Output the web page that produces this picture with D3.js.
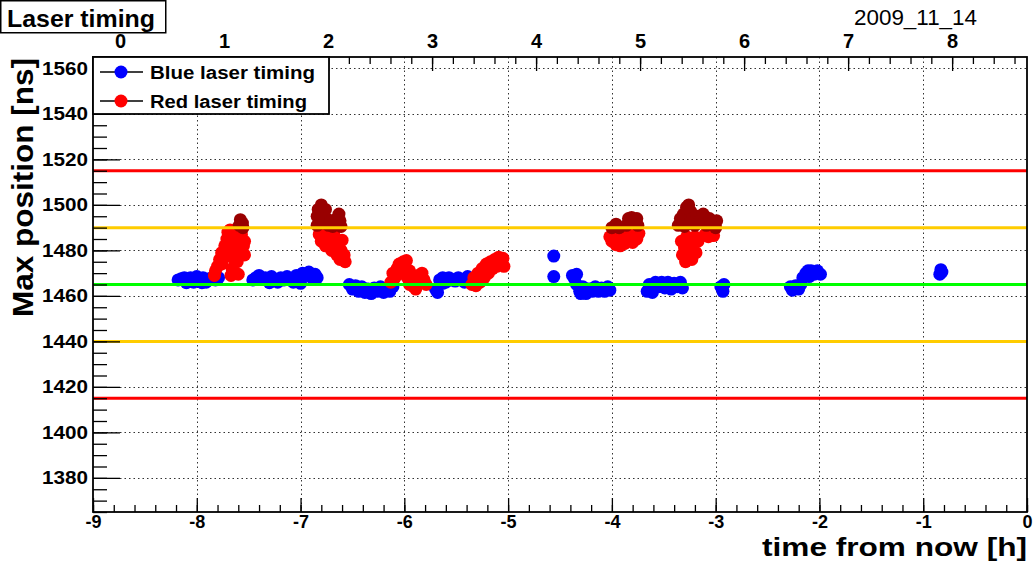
<!DOCTYPE html>
<html>
<head>
<meta charset="utf-8">
<script src="https://cdn.jsdelivr.net/npm/d3@7"></script>
<style>
  html, body { margin: 0; padding: 0; background: #fff; }
  svg { display: block; font-family: "Liberation Sans", Arial, Helvetica, sans-serif; }
</style>
</head>
<body>
<svg id="chart" width="1035" height="563"></svg>
<script>
// ---------------- data ----------------
const chartTitle = "Laser timing";
const dateLabel = "2009_11_14";
const xTitle = "time from now [h]";
const yTitle = "Max position [ns]";
const seriesNames = ["Blue laser timing", "Red laser timing"];

const xDomain = [-9, 0];
const yDomain = [1365, 1565];
const topDomain = [-0.26, 8.72];
const xMajorTicks = [-9, -8, -7, -6, -5, -4, -3, -2, -1, 0];
const xTickLabels = ["-9", "-8", "-7", "-6", "-5", "-4", "-3", "-2", "-1", "0"];
const yMajorTicks = [1380, 1400, 1420, 1440, 1460, 1480, 1500, 1520, 1540, 1560];
const topMajorTicks = [0, 1, 2, 3, 4, 5, 6, 7, 8];

// reference lines: [value, colour]
const refLines = [[1515, "#ff0000"], [1490, "#ffcc00"], [1465, "#00ff00"], [1440, "#ffcc00"], [1415, "#ff0000"]];

// blue laser timing [time (h), position (ns)]
const blueData = [
  [-8.18,1467],[-8.15,1467.5],[-8.12,1468],[-8.09,1467],[-8.06,1468],[-8.03,1466],[-8.0,1468.5],[-7.97,1467],
  [-7.94,1468],[-7.91,1466],[-7.88,1467.5],[-7.85,1468],[-7.82,1467],[-7.79,1468],[-8.1,1465.8],[-7.95,1465.8],
  [-7.46,1467],[-7.43,1468],[-7.40,1469],[-7.37,1467.5],[-7.34,1468],[-7.31,1467],[-7.28,1468.5],[-7.25,1467],
  [-7.22,1466],[-7.19,1468],[-7.16,1467],[-7.13,1468.5],[-7.10,1467.5],[-7.07,1466],[-7.04,1469],[-7.01,1468],
  [-6.98,1470],[-6.95,1469],[-6.92,1470.5],[-6.89,1468],[-6.86,1469.5],[-6.84,1468],[-7.0,1465.5],[-7.3,1465.8],
  [-6.53,1465],[-6.50,1463],[-6.47,1464.5],[-6.44,1462],[-6.41,1464],[-6.38,1461.5],[-6.35,1463],[-6.32,1461],
  [-6.29,1463.5],[-6.26,1462],[-6.23,1464],[-6.20,1461.5],[-6.17,1463],[-6.14,1462],[-6.11,1464],
  [-5.70,1463],[-5.68,1461.5],[-5.66,1467],[-5.63,1468],[-5.60,1466],[-5.57,1468],[-5.54,1467],[-5.51,1466.5],
  [-5.48,1468],[-5.45,1467],[-5.42,1466],[-5.39,1468.5],[-5.63,1465.5],
  [-4.56,1477.5],[-4.56,1468.5],
  [-4.38,1469],[-4.36,1467.5],[-4.34,1469.5],[-4.34,1465],[-4.31,1462],[-4.28,1464],[-4.25,1461],[-4.22,1463],
  [-4.19,1462],[-4.16,1464],[-4.13,1462],[-4.10,1463.5],[-4.07,1462],[-4.04,1464],[-4.02,1462.5],[-4.30,1461],
  [-3.66,1462],[-3.64,1465],[-3.61,1461.5],[-3.58,1466],[-3.55,1464],[-3.52,1466],[-3.49,1463.5],[-3.46,1466],
  [-3.43,1463],[-3.40,1465.5],[-3.37,1464],[-3.34,1466],[-3.32,1463.5],
  [-2.95,1464],[-2.93,1462],[-2.92,1465],
  [-2.28,1464],[-2.26,1462.5],[-2.23,1464.5],[-2.20,1463],[-2.18,1465],[-2.16,1468],[-2.13,1470],[-2.10,1468.5],
  [-2.08,1471],[-2.05,1469.5],[-2.02,1471],[-1.99,1469.5],[-2.11,1471],
  [-0.83,1471.5],[-0.84,1469.5],[-0.82,1470.5]
];

// red laser timing
const redData = [
  [-7.83,1469],[-7.82,1471],[-7.80,1473],[-7.78,1476],[-7.76,1479],[-7.76,1474],[-7.73,1482],[-7.73,1477],
  [-7.71,1485],[-7.70,1488],[-7.70,1480],[-7.68,1489],[-7.67,1483],[-7.66,1477],[-7.66,1472],[-7.67,1469],
  [-7.63,1486],[-7.62,1480],[-7.61,1475],[-7.60,1469.5],[-7.59,1484],[-7.57,1479],[-7.57,1487],[-7.55,1482],
  [-7.54,1484],[-7.54,1478],[-7.64,1489],
  [-6.82,1487],[-6.80,1484],[-6.78,1488],[-6.76,1482],[-6.74,1486],[-6.72,1484],[-6.70,1480],[-6.68,1487],
  [-6.67,1482],[-6.65,1478],[-6.64,1484],[-6.62,1476],[-6.61,1480],[-6.60,1484.5],[-6.58,1478],[-6.57,1475],
  [-6.13,1466],[-6.11,1470],[-6.09,1468],[-6.07,1472],[-6.05,1474],[-6.03,1470],[-6.01,1475],[-5.99,1472],
  [-5.97,1468],[-5.95,1471],[-5.93,1466],[-5.91,1464],[-5.89,1463],[-5.87,1469],[-5.85,1466],[-5.83,1470],
  [-5.81,1467],[-5.79,1465],[-5.95,1465],[-5.98,1475.5],
  [-5.35,1465],[-5.33,1468],[-5.31,1464.5],[-5.29,1470],[-5.27,1466],[-5.25,1472],[-5.23,1468],[-5.21,1474],
  [-5.19,1470],[-5.17,1475],[-5.15,1472],[-5.13,1476],[-5.11,1473],[-5.09,1477],[-5.07,1475],[-5.05,1476.5],
  [-5.04,1473],
  [-4.02,1486],[-4.00,1484],[-3.98,1487],[-3.96,1482.5],[-3.94,1485],[-3.92,1482],[-3.90,1486],[-3.88,1483],
  [-3.86,1487],[-3.84,1484.5],[-3.82,1486],[-3.80,1483.5],[-3.78,1487],[-3.76,1485],[-3.74,1487.5],
  [-3.33,1484],[-3.32,1478],[-3.30,1481],[-3.29,1475],[-3.28,1486],[-3.26,1478.5],[-3.25,1483],[-3.23,1476],
  [-3.22,1481],[-3.20,1486],[-3.19,1479],[-3.17,1484],[-3.10,1487],[-3.07,1486],[-3.04,1488],[-3.02,1486.5]
];

// red laser timing, high values (dark red)
const darkRedData = [
  [-7.59,1491],[-7.58,1493.5],[-7.56,1492],[-7.555,1490],
  [-6.84,1491],[-6.84,1495],[-6.83,1498],[-6.80,1500],[-6.79,1496],[-6.78,1492],[-6.76,1498],[-6.75,1494],
  [-6.73,1491],[-6.71,1493],[-6.69,1490.5],[-6.67,1492],[-6.65,1494],[-6.63,1496],[-6.62,1493],[-6.61,1490.5],
  [-4.00,1490],[-3.96,1491.5],[-3.93,1490],[-3.86,1491],[-3.84,1494],[-3.81,1494.5],[-3.78,1493],[-3.76,1494],[-3.75,1491],
  [-3.36,1491],[-3.34,1494],[-3.31,1496],[-3.28,1499],[-3.26,1500],[-3.24,1497],[-3.22,1494],[-3.20,1491],
  [-3.18,1495],[-3.15,1493],[-3.12,1496],[-3.09,1491],[-3.06,1494],[-3.03,1492],[-3.00,1490],[-2.99,1493],
  [-3.30,1490.5],[-3.25,1492]
];

// ---------------- drawing ----------------
const svg = d3.select("#chart");
const L = 93, R = 1027, T = 57, B = 512;
const x = d3.scaleLinear().domain(xDomain).range([L, R]);
const y = d3.scaleLinear().domain(yDomain).range([B, T]);
const xTop = d3.scaleLinear().domain(topDomain).range([L, R]);

svg.append("rect").attr("width", 1035).attr("height", 563).attr("fill", "#fff");

// grid
const grid = svg.append("g").attr("stroke", "#333").attr("stroke-width", 1).attr("stroke-dasharray", "1.5,3");
grid.selectAll("line.gx").data(xMajorTicks.filter(d => d > xDomain[0] && d < xDomain[1])).join("line")
  .attr("class", "gx")
  .attr("x1", d => Math.round(x(d)) + 0.5).attr("x2", d => Math.round(x(d)) + 0.5).attr("y1", T).attr("y2", B);
grid.selectAll("line.gy").data(yMajorTicks).join("line")
  .attr("class", "gy")
  .attr("y1", d => Math.round(y(d)) + 0.5).attr("y2", d => Math.round(y(d)) + 0.5).attr("x1", L).attr("x2", R);

// points
const R_PT = 6.5;
function drawPts(data, color) {
  svg.append("g").selectAll("circle").data(data).join("circle")
    .attr("cx", d => x(d[0])).attr("cy", d => y(d[1])).attr("r", R_PT).attr("fill", color);
}
drawPts(blueData, "#0000ff");
drawPts(redData, "#ff0000");
drawPts(darkRedData, "#990000");

// reference lines
svg.append("g").selectAll("line").data(refLines).join("line")
  .attr("x1", L).attr("x2", R).attr("y1", d => y(d[0])).attr("y2", d => y(d[0]))
  .attr("stroke", d => d[1]).attr("stroke-width", 3);

// axes helpers
function minorTicks(scale, step) {
  const [a, b] = scale.domain();
  const out = [];
  for (let v = Math.ceil(a / step) * step; v <= b + 1e-9; v += step) out.push(+v.toFixed(4));
  return out;
}
const axisFont = "bold 18px 'Liberation Sans', Arial, sans-serif";

// bottom axis
svg.append("g").attr("transform", `translate(0,${B})`)
  .call(d3.axisBottom(x).tickValues(minorTicks(x, 0.2)).tickSize(-7).tickFormat(""));
const bMajor = svg.append("g").attr("transform", `translate(0,${B})`)
  .call(d3.axisBottom(x).tickValues(xMajorTicks).tickSize(-14).tickPadding(3)
    .tickFormat((d, i) => xTickLabels[i]));
bMajor.selectAll("text").style("font", axisFont).attr("fill", "#000").attr("dy", "0.72em");

// left axis
svg.append("g").attr("transform", `translate(${L},0)`)
  .call(d3.axisLeft(y).tickValues(minorTicks(y, 5)).tickSize(-14).tickFormat(""));
const lMajor = svg.append("g").attr("transform", `translate(${L},0)`)
  .call(d3.axisLeft(y).tickValues(yMajorTicks).tickSize(-27).tickPadding(5).tickFormat(d3.format("d")));
lMajor.selectAll("text").style("font", axisFont).attr("fill", "#000")
  .attr("textLength", 46).attr("lengthAdjust", "spacingAndGlyphs");

// top axis
svg.append("g").attr("transform", `translate(0,${T})`)
  .call(d3.axisTop(xTop).tickValues(minorTicks(xTop, 0.2)).tickSize(-7).tickFormat(""));
const tMajor = svg.append("g").attr("transform", `translate(0,${T})`)
  .call(d3.axisTop(xTop).tickValues(topMajorTicks).tickSize(-14).tickPadding(9).tickFormat(d3.format("d")));
tMajor.selectAll("text").style("font", "bold 20px 'Liberation Sans', Arial, sans-serif").attr("fill", "#000");

svg.selectAll(".domain").remove();
svg.selectAll(".tick line").attr("stroke", "#000").attr("stroke-width", 1.3);

// frame
svg.append("rect").attr("x", L).attr("y", T).attr("width", R - L).attr("height", B - T)
  .attr("fill", "none").attr("stroke", "#000").attr("stroke-width", 1.8);

// axis titles
svg.append("text").attr("x", R).attr("y", 556).attr("text-anchor", "end")
  .style("font", "bold 25px 'Liberation Sans', Arial, sans-serif")
  .attr("textLength", 265).attr("lengthAdjust", "spacingAndGlyphs").text(xTitle);
svg.append("text").attr("transform", "translate(33,58) rotate(-90)").attr("text-anchor", "end")
  .style("font", "bold 30px 'Liberation Sans', Arial, sans-serif")
  .attr("textLength", 259).attr("lengthAdjust", "spacingAndGlyphs").text(yTitle);

// date label
svg.append("text").attr("x", 854).attr("y", 25)
  .style("font", "22px 'Liberation Sans', Arial, sans-serif")
  .attr("textLength", 123).attr("lengthAdjust", "spacingAndGlyphs").text(dateLabel);

// legend
const leg = svg.append("g");
leg.append("rect").attr("x", L).attr("y", T).attr("width", 236).attr("height", 57)
  .attr("fill", "#fff").attr("stroke", "#000").attr("stroke-width", 1.8);
const legColors = ["#0000ff", "#ff0000"];
const legY = [72, 101];
const legLens = [165, 157];
seriesNames.forEach((name, i) => {
  leg.append("line").attr("x1", 100).attr("x2", 143).attr("y1", legY[i]).attr("y2", legY[i])
    .attr("stroke", "#000").attr("stroke-width", 1.5);
  leg.append("circle").attr("cx", 121).attr("cy", legY[i]).attr("r", R_PT).attr("fill", legColors[i]);
  leg.append("text").attr("x", 150).attr("y", legY[i] + 7)
    .style("font", "bold 18px 'Liberation Sans', Arial, sans-serif")
    .attr("textLength", legLens[i]).attr("lengthAdjust", "spacingAndGlyphs").text(name);
});

// title box
svg.append("rect").attr("x", 0.75).attr("y", 0.75).attr("width", 165).attr("height", 32)
  .attr("fill", "#fff").attr("stroke", "#000").attr("stroke-width", 1.5);
svg.append("text").attr("x", 7).attr("y", 27)
  .style("font", "bold 24px 'Liberation Sans', Arial, sans-serif")
  .attr("textLength", 148).attr("lengthAdjust", "spacingAndGlyphs").text(chartTitle);
</script>
</body>
</html>
